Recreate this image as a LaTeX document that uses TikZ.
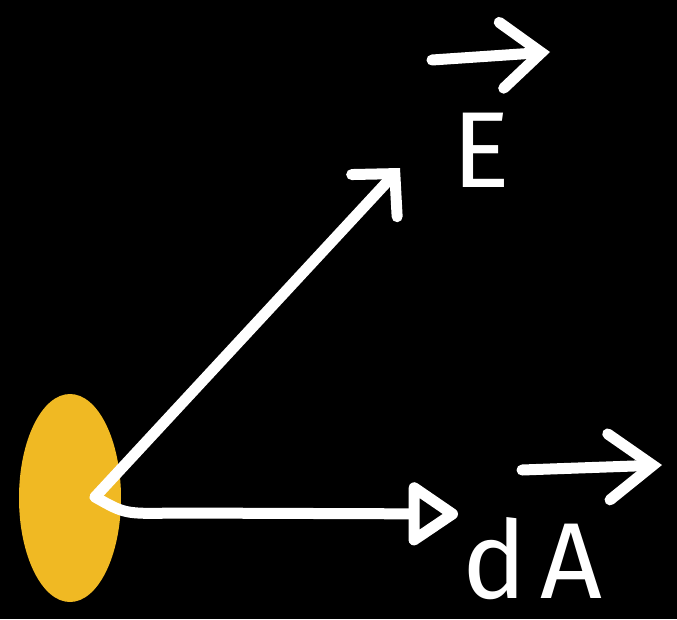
\documentclass[tikz,border=0pt]{standalone}
\usepackage{fontspec}
\setmainfont{Fira Sans}
\usetikzlibrary{arrows.meta}
\definecolor{patchorange}{RGB}{240,185,35}

\begin{document}
\begin{tikzpicture}[x=1pt, y=-1pt,
  vec/.style={white, line width=11pt, line cap=round, line join=round},
  vlabel/.style={text=white, inner sep=0pt, font=\fontsize{108}{108}\selectfont}]
  \fill[black] (0,0) rectangle (677,619);
  \fill[patchorange] (70,498) ellipse [x radius=51, y radius=104];
  \coordinate (o) at (95,497);
  \coordinate (etip) at (400,168);
  \coordinate (atip) at (458,514);
  \draw[vec, -{Straight Barb[length=30pt, width=62pt, line cap=round]}] (o) -- (etip);
  \draw[vec, -{Triangle[open, length=54pt, width=70pt, line join=round]}]
    (o) .. controls (125,514) .. (175,513) -- (atip);
  \node[vlabel, anchor=base west] (elab) at (452,187) {E};
  \node[vlabel, anchor=base west] (alab) at (462,598) {d\kern14pt A};
  \coordinate (ebar0) at (432,60);
  \coordinate (ebar1) at (550,52);
  \coordinate (abar0) at (522,470);
  \coordinate (abar1) at (662,465);
  \draw[vec, -{Straight Barb[length=40pt, width=66pt, line cap=round]}] (ebar0) -- (ebar1);
  \draw[vec, -{Straight Barb[length=44pt, width=66pt, line cap=round]}] (abar0) -- (abar1);
\end{tikzpicture}
\end{document}
